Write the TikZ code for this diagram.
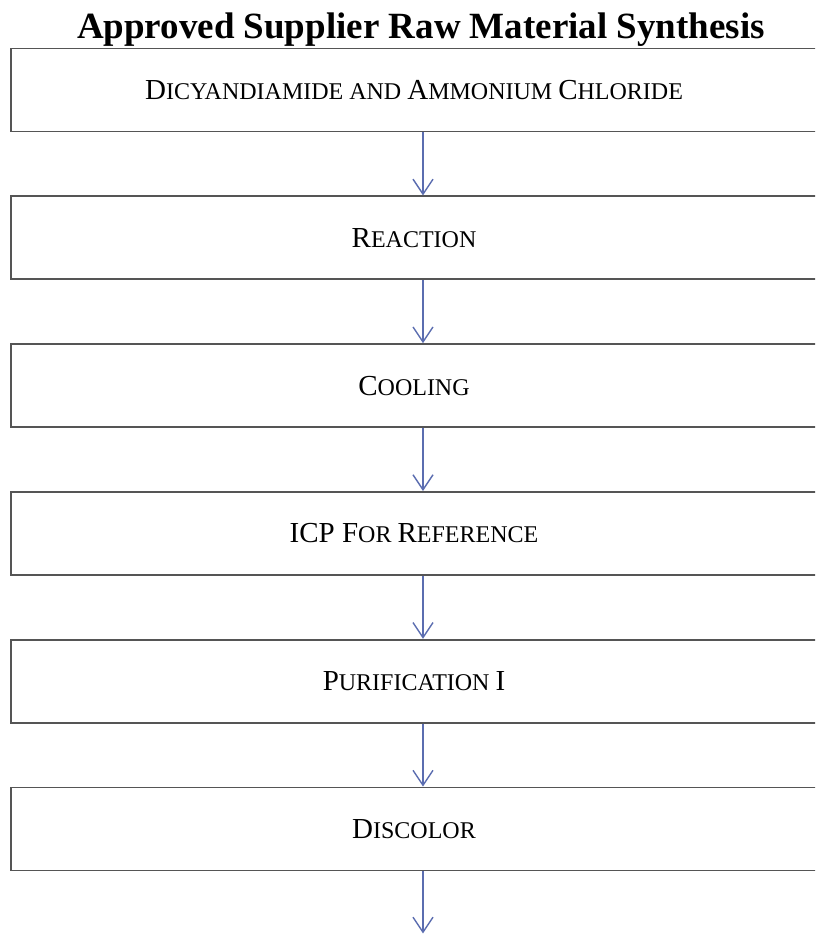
\documentclass[tikz,border=0pt]{standalone}
\usepackage{fontspec}
\setmainfont{Liberation Serif}
\usetikzlibrary{arrows.meta,positioning}

\definecolor{linkblue}{HTML}{5B6DB0}
\definecolor{boxgray}{HTML}{555555}
\newcommand{\smc}[2]{{\fontsize{29}{34}\selectfont #1}{\fontsize{24}{28}\selectfont #2}}

\begin{document}
\begin{tikzpicture}[
  x=1pt, y=-1pt,
  node distance=63pt,
  stepbox/.style={rectangle, draw=boxgray, line width=1.8pt, minimum width=806pt, minimum height=83pt, inner sep=0pt, align=center, font=\fontsize{24}{28}\selectfont},
  flow/.style={-{Straight Barb[length=15pt,width=20pt]}, draw=linkblue, line width=1.4pt}
]
\clip (0,0) rectangle (815,935);
\node[anchor=base, font=\fontsize{37}{42}\selectfont\bfseries] (title) at (421,38) {Approved Supplier Raw Material Synthesis};
\node[stepbox] (A) at (414,90) {\smc{D}{ICYANDIAMIDE AND} \smc{A}{MMONIUM} \smc{C}{HLORIDE}};
\node[stepbox, below=of A] (B) {\smc{R}{EACTION}};
\node[stepbox, below=of B] (C) {\smc{C}{OOLING}};
\node[stepbox, below=of C] (D) {\smc{ICP F}{OR} \smc{R}{EFERENCE}};
\node[stepbox, below=of D] (E) {\smc{P}{URIFICATION} \smc{I}{}};
\node[stepbox, below=of E] (F) {\smc{D}{ISCOLOR}};
\coordinate[below=62pt of F] (G);
\draw[flow] ([xshift=9pt]A.south) -- ([xshift=9pt]B.north);
\draw[flow] ([xshift=9pt]B.south) -- ([xshift=9pt]C.north);
\draw[flow] ([xshift=9pt]C.south) -- ([xshift=9pt]D.north);
\draw[flow] ([xshift=9pt]D.south) -- ([xshift=9pt]E.north);
\draw[flow] ([xshift=9pt]E.south) -- ([xshift=9pt]F.north);
\draw[flow] ([xshift=9pt]F.south) -- ([xshift=9pt]G);
\end{tikzpicture}
\end{document}
